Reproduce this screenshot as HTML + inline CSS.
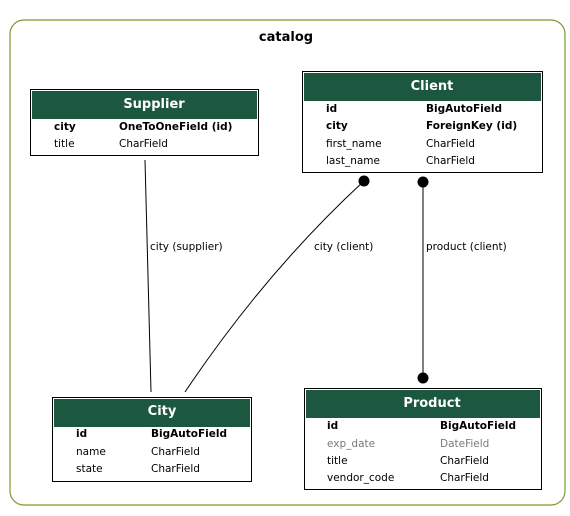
<!DOCTYPE html>
<html><head><style>body{margin:0;background:#fff}svg{display:block}text{font-family:"DejaVu Sans","Liberation Sans",sans-serif}</style></head><body>
<svg width="570" height="516" viewBox="0 0 570 516" xmlns="http://www.w3.org/2000/svg">
<rect x="10" y="20" width="555" height="485" rx="14" fill="#fff" stroke="#7e9a2e" stroke-width="1.2"/>
<text x="286" y="41" font-size="13" font-weight="bold" text-anchor="middle">catalog</text>
<g font-size="10.5">
<!-- edges -->
<path d="M145,160 L151,392" stroke="#000" fill="none"/>
<text x="150" y="250">city (supplier)</text>
<path d="M364,181 C300,240 240,310 185,392" stroke="#000" fill="none"/>
<circle cx="364" cy="181" r="5.5"/>
<text x="314" y="250">city (client)</text>
<path d="M423,182 L423,378" stroke="#000"/>
<circle cx="423" cy="182" r="5.5"/><circle cx="423" cy="378" r="5.5"/>
<text x="426" y="250">product (client)</text>
<!-- Supplier -->
<rect x="30.5" y="89.5" width="228" height="66" fill="#fff" stroke="#000"/>
<rect x="32" y="91" width="225" height="28" fill="#1c5740"/>
<text x="154" y="108" font-size="13" font-weight="bold" fill="#fff" text-anchor="middle">Supplier</text>
<text x="54" y="130" font-weight="bold">city</text><text x="119" y="130" font-weight="bold">OneToOneField (id)</text>
<text x="54" y="147">title</text><text x="119" y="147">CharField</text>
<!-- Client -->
<rect x="302.5" y="71.5" width="240" height="101" fill="#fff" stroke="#000"/>
<rect x="304" y="73" width="237" height="28" fill="#1c5740"/>
<text x="432" y="90" font-size="13" font-weight="bold" fill="#fff" text-anchor="middle">Client</text>
<text x="326" y="112" font-weight="bold">id</text><text x="426" y="112" font-weight="bold">BigAutoField</text>
<text x="326" y="129" font-weight="bold">city</text><text x="426" y="129" font-weight="bold">ForeignKey (id)</text>
<text x="326" y="147">first_name</text><text x="426" y="147">CharField</text>
<text x="326" y="164">last_name</text><text x="426" y="164">CharField</text>
<!-- City -->
<rect x="52.5" y="397.5" width="199" height="84" fill="#fff" stroke="#000"/>
<rect x="54" y="399" width="196" height="28" fill="#1c5740"/>
<text x="162" y="415" font-size="13" font-weight="bold" fill="#fff" text-anchor="middle">City</text>
<text x="76" y="437" font-weight="bold">id</text><text x="151" y="437" font-weight="bold">BigAutoField</text>
<text x="76" y="455">name</text><text x="151" y="455">CharField</text>
<text x="76" y="472">state</text><text x="151" y="472">CharField</text>
<!-- Product -->
<rect x="304.5" y="388.5" width="237" height="101" fill="#fff" stroke="#000"/>
<rect x="306" y="390" width="234" height="28" fill="#1c5740"/>
<text x="432" y="407" font-size="13" font-weight="bold" fill="#fff" text-anchor="middle">Product</text>
<text x="327" y="429" font-weight="bold">id</text><text x="440" y="429" font-weight="bold">BigAutoField</text>
<text x="327" y="447" fill="#7a7a7a">exp_date</text><text x="440" y="447" fill="#7a7a7a">DateField</text>
<text x="327" y="464">title</text><text x="440" y="464">CharField</text>
<text x="327" y="481">vendor_code</text><text x="440" y="481">CharField</text>
</g>
</svg>
</body></html>
